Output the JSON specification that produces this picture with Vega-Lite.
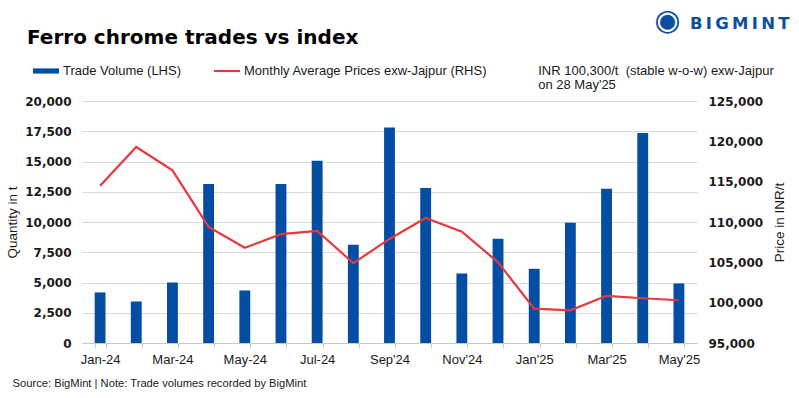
{
  "$schema": "https://vega.github.io/schema/vega-lite/v6.json",
  "width": 615,
  "height": 242,
  "autosize": {"type": "none"},
  "padding": {"left": 82, "top": 101, "right": 102, "bottom": 55},
  "background": "white",
  "config": {
    "view": {"stroke": null},
    "font": "Liberation Sans"
  },
  "title": {
    "text": "Ferro chrome trades vs index",
    "anchor": "start",
    "frame": "group",
    "font": "DejaVu Sans",
    "fontSize": 20,
    "fontWeight": "bold",
    "color": "#000000",
    "baseline": "alphabetic",
    "dx": -55,
    "dy": 58,
    "offset": 0
  },
  "data": {
    "values": [
      {"month": "Jan-24", "volume": 4180, "price": 114500},
      {"month": "Feb-24", "volume": 3430, "price": 119300},
      {"month": "Mar-24", "volume": 5000, "price": 116400},
      {"month": "Apr-24", "volume": 13150, "price": 109400},
      {"month": "May-24", "volume": 4340, "price": 106800},
      {"month": "Jun-24", "volume": 13150, "price": 108500},
      {"month": "Jul-24", "volume": 15070, "price": 108900},
      {"month": "Aug-24", "volume": 8110, "price": 104900},
      {"month": "Sep'24", "volume": 17800, "price": 107900},
      {"month": "Oct'24", "volume": 12820, "price": 110500},
      {"month": "Nov'24", "volume": 5745, "price": 108800},
      {"month": "Dec'24", "volume": 8610, "price": 105000},
      {"month": "Jan'25", "volume": 6130, "price": 99250},
      {"month": "Feb'25", "volume": 9930, "price": 99050},
      {"month": "Mar'25", "volume": 12740, "price": 100850},
      {"month": "Apr'25", "volume": 17360, "price": 100550},
      {"month": "May'25", "volume": 4920, "price": 100300}
    ]
  },
  "encoding": {
    "x": {
      "field": "month",
      "type": "ordinal",
      "scale": {
        "domain": ["Jan-24","Feb-24","Mar-24","Apr-24","May-24","Jun-24","Jul-24","Aug-24","Sep'24","Oct'24","Nov'24","Dec'24","Jan'25","Feb'25","Mar'25","Apr'25","May'25"],
        "paddingInner": 0.7,
        "paddingOuter": 0.35
      },
      "axis": {
        "title": "Source: BigMint | Note: Trade volumes recorded by BigMint",
        "titleFont": "Liberation Sans",
        "titleFontSize": 11.2,
        "titleFontWeight": "normal",
        "titleColor": "#1a1a1a",
        "titleAnchor": "start",
        "titleAlign": "left",
        "titleBaseline": "alphabetic",
        "titleX": -70,
        "titleY": 43,
        "labelAngle": 0,
        "labelFont": "Liberation Sans",
        "labelFontSize": 13,
        "labelColor": "#1a1a1a",
        "labelPadding": 5,
        "labelExpr": "indexof(['Jan-24','Mar-24','May-24','Jul-24','Sep\\'24','Nov\\'24','Jan\\'25','Mar\\'25','May\\'25'], datum.value) >= 0 ? datum.label : ''",
        "tickBand": "extent",
        "tickColor": "#c8c8c8",
        "tickSize": 5,
        "domainColor": "#c8c8c8",
        "grid": false
      }
    }
  },
  "layer": [
    {
      "mark": {"type": "bar", "color": "#034ea2"},
      "encoding": {
        "y": {
          "field": "volume",
          "type": "quantitative",
          "scale": {"domain": [0, 20000], "nice": false},
          "axis": {
            "title": "Quantity in t",
            "titleFont": "Liberation Sans",
            "titleFontSize": 13.5,
            "titleFontWeight": "normal",
            "titleColor": "#1a1a1a",
            "titleAngle": -90,
            "titleAlign": "center",
            "titleBaseline": "middle",
            "titleX": -70,
            "titleY": 121,
            "values": [0, 2500, 5000, 7500, 10000, 12500, 15000, 17500, 20000],
            "format": ",.0f",
            "labelFont": "DejaVu Sans",
            "labelFontWeight": "bold",
            "labelFontSize": 12,
            "labelColor": "#1a1a1a",
            "labelPadding": 11,
            "labelOverlap": false,
            "ticks": false,
            "domain": false,
            "grid": true,
            "gridColor": "#d9d9d9",
            "gridWidth": 1
          }
        },
        "color": {
          "datum": "Trade Volume (LHS)",
          "type": "nominal",
          "scale": {
            "domain": ["Trade Volume (LHS)", "Monthly Average Prices exw-Jajpur (RHS)"],
            "range": ["#034ea2", "#e8383d"]
          },
          "legend": {
            "title": null,
            "orient": "none",
            "direction": "horizontal",
            "legendX": -49,
            "legendY": -43,
            "labelFont": "Liberation Sans",
            "labelFontSize": 13,
            "labelColor": "#1a1a1a",
            "labelOffset": 4,
            "labelLimit": 400,
            "columnPadding": 32,
            "symbolSize": 676,
            "encode": {
              "symbols": {
                "update": {
                  "shape": {"signal": "datum.value === 'Trade Volume (LHS)' ? 'M-1,-0.2H1V0.2H-1Z' : 'M-1,-0.08H1V0.08H-1Z'"},
                  "fill": {"signal": "datum.value === 'Trade Volume (LHS)' ? '#034ea2' : '#e8383d'"},
                  "stroke": {"value": "transparent"},
                  "strokeWidth": {"value": 0},
                  "opacity": {"value": 1}
                }
              }
            }
          }
        }
      }
    },
    {
      "mark": {"type": "line", "color": "#e8383d", "strokeWidth": 2.2},
      "encoding": {
        "y": {
          "field": "price",
          "type": "quantitative",
          "scale": {"domain": [95000, 125000], "nice": false, "zero": false},
          "axis": {
            "orient": "right",
            "title": "Price in INR/t",
            "titleFont": "Liberation Sans",
            "titleFontSize": 13.5,
            "titleFontWeight": "normal",
            "titleColor": "#1a1a1a",
            "titleAngle": -90,
            "titleAlign": "center",
            "titleBaseline": "middle",
            "titleX": 82,
            "titleY": 121,
            "values": [95000, 100000, 105000, 110000, 115000, 120000, 125000],
            "format": ",.0f",
            "labelFont": "DejaVu Sans",
            "labelFontWeight": "bold",
            "labelFontSize": 12,
            "labelColor": "#1a1a1a",
            "labelPadding": 11,
            "ticks": false,
            "domain": false,
            "grid": false
          }
        },
        "color": {"datum": "Monthly Average Prices exw-Jajpur (RHS)", "type": "nominal"}
      }
    },
    {
      "data": {"values": [{"note": "latest"}]},
      "mark": {"type": "text", "align": "left", "baseline": "alphabetic", "font": "Liberation Sans", "fontSize": 13, "color": "#1a1a1a", "lineHeight": 14.5, "dx": 4},
      "encoding": {
        "x": {"datum": "Jan'25"},
        "y": {"datum": 22150, "type": "quantitative", "scale": {"domain": [0, 20000], "nice": false}, "axis": null},
        "text": {"value": ["INR 100,300/t\u00a0 (stable w-o-w) exw-Jajpur", "on 28 May'25"]}
      }
    },
    {
      "data": {"values": [{"note": "logo"}]},
      "mark": {"type": "text", "align": "left", "baseline": "alphabetic", "font": "DejaVu Sans", "fontWeight": "bold", "fontSize": 16.5, "color": "#0b4ea2", "dx": 11},
      "encoding": {
        "x": {"datum": "May'25"},
        "y": {"datum": 25918, "type": "quantitative", "scale": {"domain": [0, 20000], "nice": false}, "axis": null},
        "text": {"value": "B\u2009I\u2009G\u2009M\u2009I\u2009N\u2009T"}
      }
    },
    {
      "data": {"values": [{"note": "logo icon"}]},
      "mark": {"type": "text", "align": "center", "baseline": "middle", "font": "DejaVu Sans", "fontSize": 30, "color": "#0b4ea2", "dx": -11.5},
      "encoding": {
        "x": {"datum": "May'25"},
        "y": {"datum": 26636, "type": "quantitative", "scale": {"domain": [0, 20000], "nice": false}, "axis": null},
        "text": {"value": "\u25c9"}
      }
    }
  ],
  "resolve": {"scale": {"y": "independent"}}
}
